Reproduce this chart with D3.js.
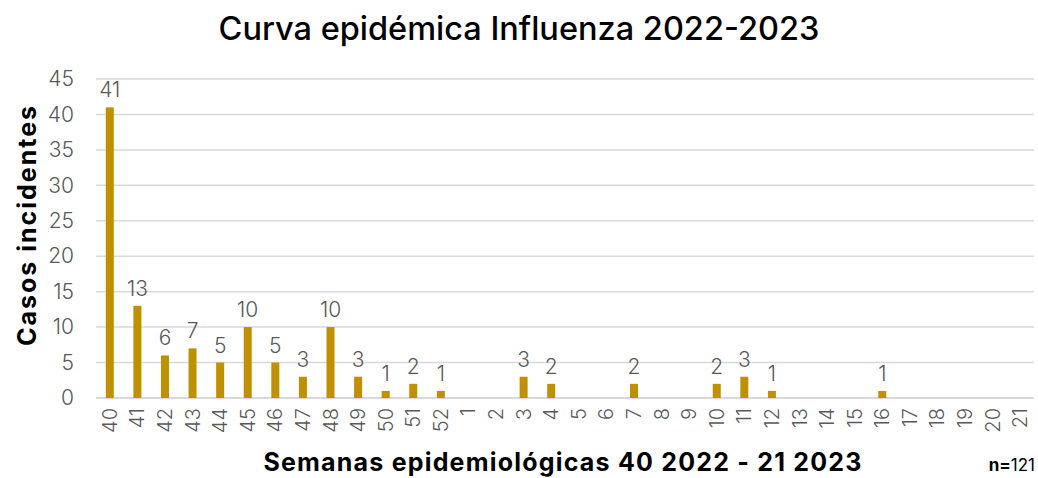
<!DOCTYPE html>
<html>
<head>
<meta charset="utf-8">
<script src="https://cdn.jsdelivr.net/npm/d3@7"></script>
<style>
  body { margin: 0; background: #fff; }
  svg { font-family: "Inter", "Noto Sans", sans-serif; }
</style>
</head>
<body>
<div id="chart"></div>
<script>
// semanas epidemiologicas 40/2022 - 21/2023
var semanas = ["40","41","42","43","44","45","46","47","48","49","50","51","52",
  "1","2","3","4","5","6","7","8","9","10","11","12","13","14","15","16","17","18","19","20","21"];
var casos = [41,13,6,7,5,10,5,3,10,3,1,2,1,
  0,0,3,2,0,0,2,0,0,2,3,1,0,0,0,1,0,0,0,0,0];
var yTicks = [0,5,10,15,20,25,30,35,40,45];

var width = 1038, height = 478;
var margin = {top: 79, right: 4, bottom: 80, left: 96};

var svg = d3.select("#chart").append("svg")
  .attr("width", width)
  .attr("height", height);

var x = d3.scaleBand()
  .domain(semanas)
  .range([margin.left, width - margin.right])
  .paddingInner(0.71)
  .paddingOuter(0.355);

var y = d3.scaleLinear()
  .domain([0, 45])
  .range([height - margin.bottom, margin.top]);

// gridlines
svg.append("g")
  .selectAll("line")
  .data(yTicks)
  .enter().append("line")
  .attr("x1", margin.left)
  .attr("x2", width - margin.right)
  .attr("y1", function (d) { return y(d); })
  .attr("y2", function (d) { return y(d); })
  .attr("stroke", "#d9d9d9")
  .attr("stroke-width", function (d) { return d === 0 ? 2 : 1.5; });

// y axis labels
var yAxis = d3.axisLeft(y).tickValues(yTicks).tickSize(0).tickPadding(0);
var gy = svg.append("g")
  .attr("transform", "translate(" + (margin.left - 22) + ",0)")
  .call(yAxis);
gy.select(".domain").remove();
gy.selectAll("text")
  .attr("fill", "#595959")
  .attr("font-family", "Inter, sans-serif")
  .attr("font-weight", "300")
  .attr("font-size", "21px");

// x axis labels
var xAxis = d3.axisBottom(x).tickSize(0).tickPadding(0);
var gx = svg.append("g")
  .attr("transform", "translate(0," + (height - margin.bottom) + ")")
  .call(xAxis);
gx.select(".domain").remove();
gx.selectAll("text")
  .attr("fill", "#595959")
  .attr("font-family", "Inter, sans-serif")
  .attr("font-weight", "300")
  .attr("font-size", "20px")
  .attr("text-anchor", "end")
  .attr("dy", "0.35em")
  .attr("transform", "translate(0,10) rotate(-90)");

// bars
svg.append("g")
  .selectAll("rect")
  .data(casos)
  .enter().append("rect")
  .attr("x", function (d, i) { return x(semanas[i]); })
  .attr("y", function (d) { return y(d); })
  .attr("width", x.bandwidth())
  .attr("height", function (d) { return y(0) - y(d); })
  .attr("fill", "#bf9000");

// data labels (only non-zero)
svg.append("g")
  .selectAll("text")
  .data(casos.map(function (d, i) { return {v: d, s: semanas[i]}; })
    .filter(function (d) { return d.v > 0; }))
  .enter().append("text")
  .attr("x", function (d) { return x(d.s) + x.bandwidth() / 2; })
  .attr("y", function (d) { return y(d.v) - 10; })
  .attr("text-anchor", "middle")
  .attr("fill", "#595959")
  .attr("font-weight", "300")
  .attr("font-size", "21px")
  .text(function (d) { return d.v; });

// title
svg.append("text")
  .attr("x", 519)
  .attr("y", 40)
  .attr("text-anchor", "middle")
  .attr("font-size", "32.5px")
  .attr("font-weight", "500")
  .attr("fill", "#000")
  .text("Curva epidémica Influenza 2022-2023");

// axis titles
svg.append("text")
  .attr("transform", "translate(36,225) rotate(-90)")
  .attr("text-anchor", "middle")
  .attr("font-size", "25px")
  .attr("letter-spacing", "2px")
  .attr("font-weight", "bold")
  .attr("fill", "#000")
  .text("Casos incidentes");

svg.append("text")
  .attr("x", 563)
  .attr("y", 471)
  .attr("text-anchor", "middle")
  .attr("font-size", "25px")
  .attr("letter-spacing", "1.2px")
  .attr("font-weight", "bold")
  .attr("fill", "#000")
  .text("Semanas epidemiológicas 40 2022 - 21 2023");

var n = svg.append("text")
  .attr("x", 1035)
  .attr("y", 471)
  .attr("text-anchor", "end")
  .attr("font-size", "17px")
  .attr("fill", "#000");
n.append("tspan").attr("font-weight", "bold").text("n=");
n.append("tspan").text(d3.sum(casos));
</script>
</body>
</html>
